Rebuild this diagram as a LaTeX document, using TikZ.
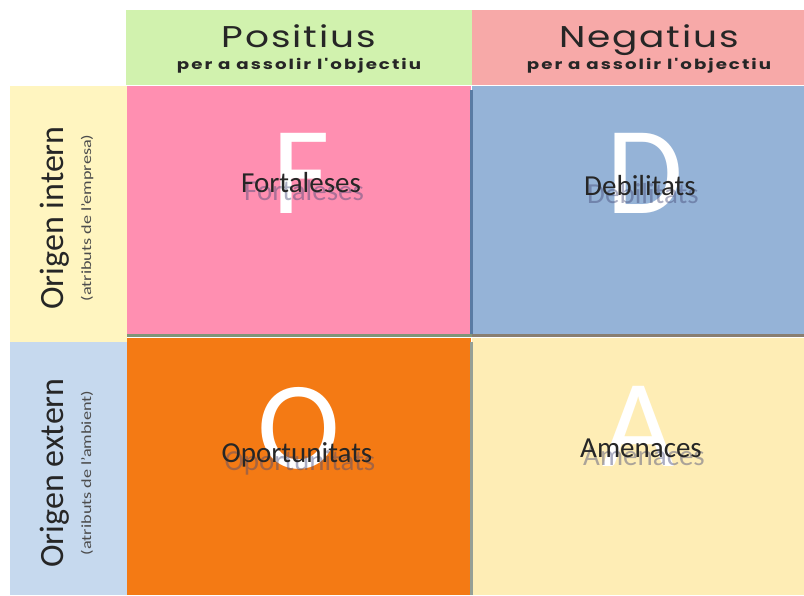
\documentclass[tikz,border=0pt]{standalone}
\usepackage{fontspec}
\setmainfont{Carlito}
\newfontfamily\headfont{Poppins}[LetterSpace=5]
\newfontfamily\headsubfont{Poppins}[LetterSpace=11]
\usepackage{tikz}

\definecolor{posgreen}{RGB}{209,242,174}
\definecolor{negred}{RGB}{247,169,168}
\definecolor{intyellow}{RGB}{255,245,192}
\definecolor{extblue}{RGB}{198,217,238}
\definecolor{fpink}{RGB}{255,143,177}
\definecolor{dblue}{RGB}{149,179,215}
\definecolor{oorange}{RGB}{244,122,20}
\definecolor{ayellow}{RGB}{254,237,181}
\definecolor{shadowcol}{RGB}{70,75,120}

\tikzset{
  cell/.style={draw=none, inner sep=0pt, anchor=north west},
  headtitle/.style={xscale=1.25, font=\headfont\fontsize{30}{30}\selectfont, text=black!85, inner sep=0pt, anchor=base},
  headsub/.style={xscale=1.3, font=\headsubfont\bfseries\fontsize{14}{14}\selectfont, text=black!85, inner sep=0pt, anchor=base},
  sidetitle/.style={rotate=90, font=\fontsize{34}{34}\selectfont, text=black!85, inner sep=0pt, anchor=base},
  sidesub/.style={rotate=90, xscale=1.3, font=\fontsize{14}{14}\selectfont, text=black!70, inner sep=0pt, anchor=base},
  bigletter/.style={text=white, font=\fontsize{125}{125}\selectfont, inner sep=0pt, anchor=base},
  quadtext/.style={text=black!85, font=\fontsize{29}{29}\selectfont, inner sep=0pt, anchor=base},
  quadshadow/.style={text=shadowcol, text opacity=0.45, font=\fontsize{29}{29}\selectfont, inner sep=0pt, anchor=base},
}

\begin{document}
\begin{tikzpicture}[x=1pt,y=-1pt]
            \useasboundingbox (0,0) rectangle (804,595);

            % header row
            \node[cell, fill=posgreen, minimum width=346pt, minimum height=75pt] (pos) at (126,10) {};
            \node[cell, fill=negred, minimum width=332pt, minimum height=75pt] (neg) at (472,10) {};
            \node[headtitle] (postitle) at (299,47) {Positius};
            \node[headsub] (possub) at (299,69) {per a assolir l'objectiu};
            \node[headtitle] (negtitle) at (649,47) {Negatius};
            \node[headsub] (negsub) at (649,69) {per a assolir l'objectiu};

            % left column
            \node[cell, fill=intyellow, minimum width=117pt, minimum height=256pt] (int) at (10,86) {};
            \node[cell, fill=extblue, minimum width=117pt, minimum height=253pt] (ext) at (10,342) {};
            \node[sidetitle] (inttitle) at (63,218) {Origen intern};
            \node[sidesub] (intsub) at (91,218) {(atributs de l'empresa)};
            \node[sidetitle] (exttitle) at (63,473) {Origen extern};
            \node[sidesub] (extsub) at (91,473) {(atributs de l'ambient)};

            % quadrants
            \node[cell, fill=fpink, minimum width=344pt, minimum height=248pt] (fq) at (127,86) {};
            \node[cell, fill=dblue, minimum width=332pt, minimum height=248pt] (dq) at (472,86) {};
            \node[cell, fill=oorange, minimum width=344pt, minimum height=257pt] (oq) at (127,338) {};
            \node[cell, fill=ayellow, minimum width=332pt, minimum height=257pt] (aq) at (472,338) {};

            % dividers
            \draw[line width=3pt, color={rgb,255:red,90;green,123;blue,163}] (471.5,90) -- (471.5,335);
            \draw[line width=3.5pt, color={rgb,255:red,128;green,150;blue,120}] (127,335.5) -- (472,335.5);
            \draw[line width=3.5pt, color={rgb,255:red,137;green,126;blue,112}] (472,335.5) -- (804,335.5);
            \draw[line width=3pt, color={rgb,255:red,150;green,160;blue,150}] (471.5,342) -- (471.5,595);

            % letters
            \node[bigletter] (fl) at (301,213) {F};
            \node[bigletter] (dl) at (645,213) {D};
            \node[bigletter] (ol) at (299,468) {O};
            \node[bigletter] (al) at (639,466) {A};

            % labels with shadow
            \node[quadshadow] (fs) at (304,200) {Fortaleses};
            \node[quadtext] (ft) at (301,192) {Fortaleses};
            \node[quadshadow] (ds) at (643,203) {Debilitats};
            \node[quadtext] (dt) at (640,195) {Debilitats};
            \node[quadshadow] (os) at (300,470) {Oportunitats};
            \node[quadtext] (ot) at (297,462) {Oportunitats};
            \node[quadshadow] (as) at (644,465) {Amenaces};
            \node[quadtext] (at) at (641,457) {Amenaces};
        \end{tikzpicture}
\end{document}
